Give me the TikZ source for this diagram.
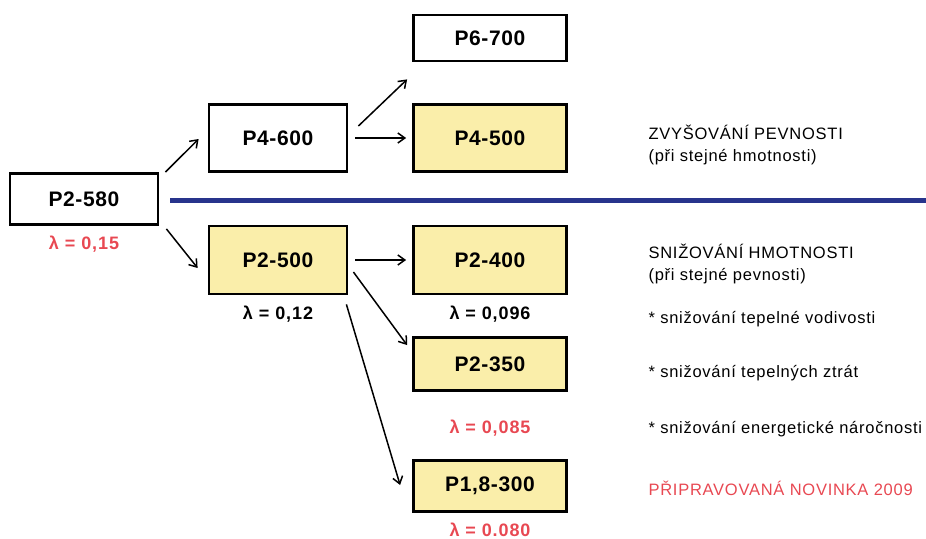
\documentclass[tikz,border=0pt]{standalone}
\usepackage{fontspec}
\setmainfont{Liberation Sans}
\usetikzlibrary{positioning,arrows.meta,calc}

\definecolor{boxyellow}{RGB}{250,238,170}
\definecolor{lamred}{RGB}{232,72,82}
\definecolor{lineblue}{RGB}{40,52,140}

\begin{document}
\begin{tikzpicture}[x=1pt,y=-1pt,
  typ/.style={draw, line width=2.8pt, inner sep=0pt, font=\fontsize{21}{24}\selectfont\bfseries\addfontfeatures{LetterSpace=3}},
  novy/.style={typ, fill=boxyellow},
  lam/.style={anchor=base, font=\fontsize{18}{20}\selectfont\bfseries\addfontfeatures{LetterSpace=5}},
  popis/.style={anchor=base west, font=\fontsize{16.5}{18}\selectfont\addfontfeatures{LetterSpace=4.5}},
  sip/.style={-{Straight Barb[length=7pt,width=10pt]}, line width=1.5pt}]

\useasboundingbox (0,0) rectangle (926,538);

%%% delici cara
\draw[lineblue, line width=5pt] (170,200) --(926,200);

%%% typy
\node[typ, minimum width=148pt, minimum height=51pt] (p2580) at (84,199) {P2-580};
\node[typ, minimum width=138pt, minimum height=67pt] (p4600) at (278,138) {P4-600};
\node[novy, minimum width=138pt, minimum height=68pt] (p2500) at (278,260) {P2-500};
\node[typ, minimum width=153pt, minimum height=46pt] (p6700) at (490,38) {P6-700};
\node[novy, minimum width=153pt, minimum height=67pt] (p4500) at (490,138) {P4-500};
\node[novy, minimum width=153pt, minimum height=68pt] (p2400) at (490,260) {P2-400};
\node[novy, minimum width=153pt, minimum height=53pt] (p2350) at (490,364) {P2-350};
\node[novy, minimum width=153pt, minimum height=51pt] (p18300) at (490,486) {P1,8-300};

%% lambda
\node[lam, lamred] (l2580) at (84,249) {λ = 0,15};
\node[lam] (l2500) at (278,319) {λ = 0,12};
\node[lam] (l2400) at (490,319) {λ = 0,096};
\node[lam, lamred] (l2350) at (490,433) {λ = 0,085};
\node[lam, lamred] (l18300) at (490,536) {λ = 0.080};

%% sipky
\draw[sip] ($(p2580.north east)+(6,0)$) --($(p4600.west)+(-9,1)$);
\draw[sip] ($(p2580.south east)+(7,3)$) --($(p2500.west)+(-10,8)$);
\draw[sip] ($(p4600.east)+(10,-12)$) --($(p6700.south west)+(-5,17)$);
\draw[sip, shorten <=7pt, shorten >=6pt] (p4600) --(p4500);
\draw[sip, shorten <=7pt, shorten >=6pt] (p2500) --(p2400);
\draw[sip] ($(p2500.east)+(5,12)$) --($(p2350.north west)+(-5,9)$);
\draw[sip] ($(p2500.south east)+(-2,9)$) --($(p18300.west)+(-12,-1)$);

%% popisy vpravo
\node[popis] (pev) at (645,139) {ZVYŠOVÁNÍ PEVNOSTI};
\node[popis] (pev2) at (645,161) {(při stejné hmotnosti)};
\node[popis] (hmot) at (645,258) {SNIŽOVÁNÍ HMOTNOSTI};
\node[popis] (hmot2) at (645,280) {(při stejné pevnosti)};
\node[popis] (vod) at (645,323) {* snižování tepelné vodivosti};
\node[popis] (ztr) at (645,377) {* snižování tepelných ztrát};
\node[popis] (ene) at (645,433) {* snižování energetické náročnosti};
\node[popis, lamred] (nov) at (645,495) {PŘIPRAVOVANÁ NOVINKA 2009};

\end{tikzpicture}
\end{document}
